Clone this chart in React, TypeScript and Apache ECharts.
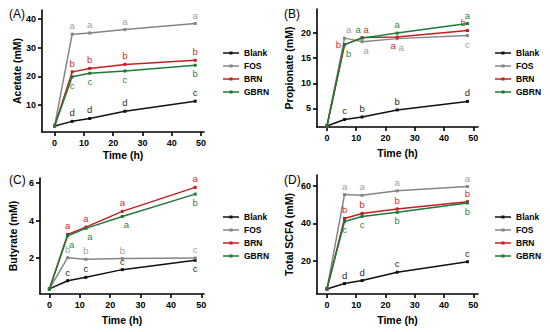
import React, { useEffect, useRef } from "react";
import * as echarts from "echarts";

const timePoints = [0, 6, 12, 24, 48];
const groups = ["Blank", "FOS", "BRN", "GBRN"];
const xTicks = [0, 10, 20, 30, 40, 50];

// (A) Acetate
const acetateBlank = [2.8, 4.4, 5.4, 7.9, 11.4];
const acetateFOS = [2.8, 34.7, 35.1, 36.3, 38.4];
const acetateBRN = [2.8, 21.6, 22.8, 24.2, 25.6];
const acetateGBRN = [2.8, 19.9, 21.1, 21.9, 23.9];
const acetateLetters = [
  ["", "d", "d", "d", "c"],
  ["", "a", "a", "a", "a"],
  ["", "b", "b", "b", "b"],
  ["", "c", "c", "c", "b"],
];
const acetateTicks = [10, 20, 30, 40];

// (B) Propionate
const propionateBlank = [1.5, 2.8, 3.3, 4.7, 6.4];
const propionateFOS = [1.5, 19.0, 18.3, 18.9, 19.5];
const propionateBRN = [1.5, 17.7, 19.1, 19.2, 20.5];
const propionateGBRN = [1.5, 17.7, 19.0, 20.0, 21.9];
const propionateLetters = [
  ["", "c", "b", "b", "d"],
  ["", "a", "a", "a", "c"],
  ["", "b", "a", "a", "b"],
  ["", "b", "a", "a", "a"],
];
const propionateTicks = [5, 10, 15, 20];

// (C) Butyrate
const butyrateBlank = [0.35, 0.79, 0.97, 1.38, 1.88];
const butyrateFOS = [0.35, 2.02, 1.93, 1.97, 2.0];
const butyrateBRN = [0.35, 3.26, 3.65, 4.49, 5.77];
const butyrateGBRN = [0.35, 3.19, 3.58, 4.22, 5.41];
const butyrateLetters = [
  ["", "c", "c", "c", "c"],
  ["", "b", "b", "b", "c"],
  ["", "a", "a", "a", "a"],
  ["", "a", "a", "a", "b"],
];
const butyrateTicks = [2, 4, 6];

// (D) Total SCFA
const scfaBlank = [4.9, 7.8, 9.4, 13.9, 19.5];
const scfaFOS = [4.9, 55.5, 55.1, 57.5, 59.8];
const scfaBRN = [4.9, 42.7, 45.4, 47.8, 51.7];
const scfaGBRN = [4.9, 41.1, 43.8, 46.0, 51.0];
const scfaLetters = [
  ["", "d", "d", "c", "c"],
  ["", "a", "a", "a", "a"],
  ["", "b", "b", "b", "b"],
  ["", "c", "c", "b", "b"],
];
const scfaTicks = [20, 40, 60];

// styling / layout (not data)
const lineColors = ["#111111", "#858585", "#c41e24", "#1d7a3a"];
const letterColors = ["#2a2a2a", "#a0a0a0", "#d42a2a", "#2a8a45"];
const FONT = "'Liberation Sans', Arial, Helvetica, sans-serif";

const placeA = [
  ["", "T", "T", "T", "T"],
  ["", "T", "T", "T", "T"],
  ["", "T", "T", "T", "T"],
  ["", "B", "B", "B", "B"],
];
const placeB = [
  ["", "T", "T", "T", "T"],
  ["", "TR", "BR", "BR", "B"],
  ["", "L", "TR", "BL", "TL"],
  ["", "BR", "TL", "T", "T"],
];
const placeC = [
  ["", "T", "T", "T", "B"],
  ["", "T", "T", "T", "T"],
  ["", "T", "T", "T", "T"],
  ["", "BR", "BR", "BR", "B"],
];
const placeD = [
  ["", "T", "T", "T", "T"],
  ["", "T", "T", "T", "T"],
  ["", "T", "T", "T", "T"],
  ["", "B", "B", "B", "B"],
];

const panels = [
  {
    tag: "(A)",
    yName: "Acetate (mM)",
    series: [acetateBlank, acetateFOS, acetateBRN, acetateGBRN],
    letters: acetateLetters,
    place: placeA,
    yTicks: acetateTicks,
    grid: { left: 42, top: 10, width: 162, height: 122 },
    x: { min: -4.3, max: 51 },
    y: { min: 0.7, max: 43.1 },
    yGap: 20,
    xGap: 17,
    tagPos: [9, 8],
    legendPos: [223, 48],
  },
  {
    tag: "(B)",
    yName: "Propionate (mM)",
    series: [propionateBlank, propionateFOS, propionateBRN, propionateGBRN],
    letters: propionateLetters,
    place: placeB,
    yTicks: propionateTicks,
    grid: { left: 317, top: 9, width: 161, height: 118 },
    x: { min: -3.4, max: 51.6 },
    y: { min: 1.3, max: 24.8 },
    yGap: 22.5,
    xGap: 20,
    tagPos: [284, 8],
    legendPos: [495, 48],
  },
  {
    tag: "(C)",
    yName: "Butyrate (mM)",
    series: [butyrateBlank, butyrateFOS, butyrateBRN, butyrateGBRN],
    letters: butyrateLetters,
    place: placeC,
    yTicks: butyrateTicks,
    grid: { left: 40, top: 178, width: 164, height: 116 },
    x: { min: -3.1, max: 50.9 },
    y: { min: 0.08, max: 6.27 },
    yGap: 21.5,
    xGap: 20,
    tagPos: [9, 174],
    legendPos: [223, 212],
  },
  {
    tag: "(D)",
    yName: "Total SCFA (mM)",
    series: [scfaBlank, scfaFOS, scfaBRN, scfaGBRN],
    letters: scfaLetters,
    place: placeD,
    yTicks: scfaTicks,
    grid: { left: 317, top: 175, width: 161, height: 119 },
    x: { min: -3.4, max: 51.6 },
    y: { min: 2.2, max: 66 },
    yGap: 22.5,
    xGap: 20,
    tagPos: [284, 174],
    legendPos: [495, 212],
  },
];

function labelFor(place: string, text: string, color: string) {
  if (!text) return { show: false };
  const base: any = {
    show: true,
    formatter: text,
    color,
    fontSize: 9.5,
    fontFamily: FONT,
    distance: 2,
  };
  switch (place) {
    case "T":
      return { ...base, position: "top" };
    case "B":
      return { ...base, position: "bottom" };
    case "TR":
      return { ...base, position: "top", offset: [4, 0] };
    case "TL":
      return { ...base, position: "top", offset: [-4, 0] };
    case "BR":
      return { ...base, position: "bottom", offset: [4, 0] };
    case "BL":
      return { ...base, position: "bottom", offset: [-4, 0] };
    case "L":
      return { ...base, position: "left" };
    case "R":
      return { ...base, position: "right" };
    default:
      return { ...base, position: "top" };
  }
}

const axisLineStyle = { color: "#000", width: 1.6 };

function buildOption() {
  const grid: any[] = [];
  const xAxis: any[] = [];
  const yAxis: any[] = [];
  const series: any[] = [];
  const legend: any[] = [];
  const graphic: any[] = [];

  panels.forEach((p, pi) => {
    grid.push({ ...p.grid, containLabel: false });
    xAxis.push({
      type: "value",
      gridIndex: pi,
      min: p.x.min,
      max: p.x.max,
      name: "Time (h)",
      nameLocation: "middle",
      nameGap: p.xGap,
      nameTextStyle: { fontFamily: FONT, fontWeight: "bold", fontSize: 10.5, color: "#000" },
      axisLine: { show: true, onZero: false, lineStyle: axisLineStyle },
      axisTick: { show: true, length: 4, customValues: xTicks, lineStyle: axisLineStyle },
      axisLabel: {
        customValues: xTicks,
        fontFamily: FONT,
        fontWeight: "bold",
        fontSize: 9,
        color: "#000",
        margin: 6,
      },
      splitLine: { show: false },
    });
    yAxis.push({
      type: "value",
      gridIndex: pi,
      min: p.y.min,
      max: p.y.max,
      name: p.yName,
      nameLocation: "middle",
      nameGap: p.yGap,
      nameTextStyle: { fontFamily: FONT, fontWeight: "bold", fontSize: 10.5, color: "#000" },
      axisLine: { show: true, onZero: false, lineStyle: axisLineStyle },
      axisTick: { show: true, length: 4, customValues: p.yTicks, lineStyle: axisLineStyle },
      axisLabel: {
        customValues: p.yTicks,
        fontFamily: FONT,
        fontWeight: "bold",
        fontSize: 9,
        color: "#000",
        margin: 6,
      },
      splitLine: { show: false },
    });
    p.series.forEach((vals, gi) => {
      series.push({
        type: "line",
        name: groups[gi],
        xAxisIndex: pi,
        yAxisIndex: pi,
        symbol: "rect",
        symbolSize: 3,
        color: lineColors[gi],
        lineStyle: { width: 1.5, color: lineColors[gi] },
        itemStyle: { color: lineColors[gi] },
        z: 2 + gi,
        data: timePoints.map((t, i) => ({
          value: [t, vals[i]],
          label: labelFor(p.place[gi][i], p.letters[gi][i], letterColors[gi]),
        })),
      });
    });
    legend.push({
      data: groups,
      orient: "vertical",
      left: p.legendPos[0],
      top: p.legendPos[1],
      itemWidth: 16,
      itemHeight: 3,
      itemGap: 3,
      padding: 0,
      icon: "path://M0,0.8H16V2.2H0Z M6.5,0H9.5V3H6.5Z",
      selectedMode: false,
      textStyle: { fontFamily: FONT, fontWeight: "bold", fontSize: 8.5, color: "#000", lineHeight: 10 },
    });
    graphic.push({
      type: "text",
      left: p.tagPos[0],
      top: p.tagPos[1],
      style: { text: p.tag, fontFamily: FONT, fontSize: 12, fill: "#000" },
    });
  });

  return {
    animation: false,
    backgroundColor: "#ffffff",
    grid,
    xAxis,
    yAxis,
    series,
    legend,
    graphic,
  };
}

export default function App() {
  const ref = useRef<HTMLDivElement>(null);
  useEffect(() => {
    if (!ref.current) return;
    const chart = echarts.init(ref.current, undefined, { renderer: "svg" });
    chart.setOption(buildOption());
    return () => chart.dispose();
  }, []);
  return (
    <div
      ref={ref}
      style={{ position: "fixed", left: 0, top: 0, width: 550, height: 332, background: "#fff" }}
    />
  );
}
